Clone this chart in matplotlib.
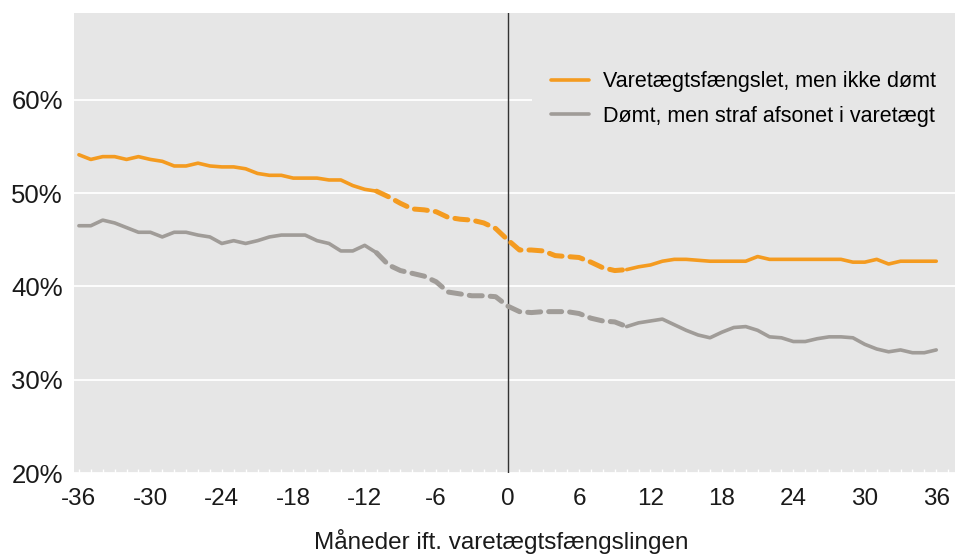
import numpy as np
import matplotlib.pyplot as plt
from matplotlib.ticker import FuncFormatter, MultipleLocator

plt.rcParams['font.family'] = ['Liberation Sans', 'DejaVu Sans']

# months relative to the remand
months = np.arange(-36, 37)

# share (%)
varetaegt = [
    54.1, 53.6, 53.9, 53.9, 53.6, 53.9, 53.6, 53.4, 52.9, 52.9,
    53.2, 52.9, 52.8, 52.8, 52.6, 52.1, 51.9, 51.9, 51.6, 51.6,
    51.6, 51.4, 51.4, 50.8, 50.4, 50.2, 49.6, 48.9, 48.3, 48.2,
    48.0, 47.4, 47.2, 47.1, 46.8, 46.2, 45.0, 43.9, 43.9, 43.8,
    43.3, 43.2, 43.1, 42.6, 42.0, 41.7, 41.8, 42.1, 42.3, 42.7,
    42.9, 42.9, 42.8, 42.7, 42.7, 42.7, 42.7, 43.2, 42.9, 42.9,
    42.9, 42.9, 42.9, 42.9, 42.9, 42.6, 42.6, 42.9, 42.4, 42.7,
    42.7, 42.7, 42.7,
]
doemt = [
    46.5, 46.5, 47.1, 46.8, 46.3, 45.8, 45.8, 45.3, 45.8, 45.8,
    45.5, 45.3, 44.6, 44.9, 44.6, 44.9, 45.3, 45.5, 45.5, 45.5,
    44.9, 44.6, 43.8, 43.8, 44.4, 43.6, 42.3, 41.7, 41.4, 41.1,
    40.5, 39.4, 39.2, 39.0, 39.0, 38.9, 37.9, 37.3, 37.2, 37.3,
    37.3, 37.3, 37.1, 36.6, 36.3, 36.2, 35.7, 36.1, 36.3, 36.5,
    35.9, 35.3, 34.8, 34.5, 35.1, 35.6, 35.7, 35.3, 34.6, 34.5,
    34.1, 34.1, 34.4, 34.6, 34.6, 34.5, 33.8, 33.3, 33.0, 33.2,
    32.9, 32.9, 33.2,
]
labels = ["Varetægtsfængslet, men ikke dømt", "Dømt, men straf afsonet i varetægt"]
dash_from, dash_to = -11, 10

bg = "#e6e6e6"
colors = ["#f49b20", "#a09c98"]
txt = "#1a1a1a"

fig = plt.figure(figsize=(9.63, 5.58), dpi=100)
ax = fig.add_axes([0.077, 0.152, 0.915, 0.825])
ax.set_facecolor(bg)
for s in ax.spines.values():
    s.set_visible(False)

for vals, c, lab in zip([varetaegt, doemt], colors, labels):
    vals = np.array(vals)
    a = months <= dash_from
    b = (months >= dash_from) & (months <= dash_to)
    d = months >= dash_to
    ax.plot(months[a], vals[a], color=c, lw=2.6, solid_capstyle="round", label=lab, zorder=3)
    ax.plot(months[b], vals[b], color=c, lw=3.6, ls=(0, (2.6, 1.6)), dash_capstyle="round", zorder=3)
    ax.plot(months[d], vals[d], color=c, lw=2.6, solid_capstyle="round", zorder=3)

ax.axvline(0, color="#333333", lw=1, zorder=2)

ax.set_xlim(-36.4, 37.6)
ax.set_ylim(20, 69.3)
ax.xaxis.set_major_locator(MultipleLocator(6))
ax.xaxis.set_minor_locator(MultipleLocator(1))
ax.xaxis.set_major_formatter(FuncFormatter(lambda v, p: f"{v:.0f}".replace("\u2212", "-")))
ax.set_yticks([20, 30, 40, 50, 60])
ax.yaxis.set_major_formatter(FuncFormatter(lambda v, p: f"{v:.0f}%"))
ax.grid(axis="y", color="white", lw=1.3, zorder=1)
ax.set_axisbelow(True)
ax.tick_params(axis="y", length=0, pad=8, labelsize=18.5, labelcolor=txt)
ax.tick_params(axis="x", which="both", direction="in", length=3, color="white",
               width=1, pad=11, labelsize=17.5, labelcolor=txt)
ax.set_xlabel("Måneder ift. varetægtsfængslingen", fontsize=17.5, color=txt)
ax.xaxis.set_label_coords(0.485, -0.122)

leg = ax.legend(loc="upper right", bbox_to_anchor=(1.0, 0.915), frameon=True, facecolor=bg,
                edgecolor="none", framealpha=1, fontsize=15.5, handlelength=1.75,
                handletextpad=0.65, labelspacing=0.62, borderaxespad=0, borderpad=0.9)
leg.get_frame().set_boxstyle("square", pad=0)

fig.savefig("out.png", dpi=100)
